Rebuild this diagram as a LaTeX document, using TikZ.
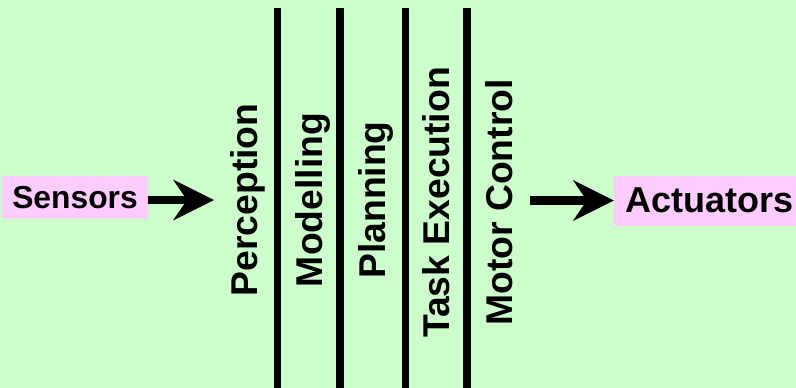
\documentclass[tikz,border=0pt]{standalone}
\usepackage{fontspec}
\setmainfont{Liberation Sans}
\usetikzlibrary{arrows.meta}
\definecolor{bggreen}{RGB}{204,255,204}
\definecolor{boxpink}{RGB}{255,204,255}
\tikzset{
  iobox/.style={fill=boxpink, inner sep=0pt, font=\bfseries},
  layer/.style={rotate=90, anchor=base, inner sep=0pt, font=\fontsize{37.3}{40}\selectfont\bfseries},
  divider/.style={line width=7.5pt, black},
  bigarrow/.style={line width=8.5pt, -{Stealth[length=41pt, width=41pt, inset=14pt, line width=0pt]}}
}
\begin{document}
\begin{tikzpicture}[x=1pt, y=-1pt]
\useasboundingbox (0,0) rectangle (796,388);
\fill[bggreen] (0,0) rectangle (796,388);
% dividers
\foreach \xx in {277.5,340,405.3,466.8}
  \draw[divider] (\xx,8) -- (\xx,392);
% layer labels
\node[layer] (perc) at (257,200) {Perception};
\node[layer] (mod) at (322.5,200) {Modelling};
\node[layer] (plan) at (385.5,200) {Planning};
\node[layer] (task) at (449,202.5) {Task Execution};
\node[layer] (motor) at (512,202.5) {Motor Control};
% input / output
\node[iobox, minimum width=146pt, minimum height=43pt, font=\fontsize{31.8}{34}\selectfont\bfseries] (sens) at (75,197.5) {Sensors};
\node[iobox, minimum width=192pt, minimum height=50pt, font=\fontsize{36}{38}\selectfont\bfseries] (act) at (710,200.5) {Actuators};
\coordinate (inp) at (214,200);
\coordinate (outs) at (530,200.5);
\draw[bigarrow] (sens.east |- inp) -- (inp);
\draw[bigarrow] (outs) -- (act.west);
\end{tikzpicture}
\end{document}
